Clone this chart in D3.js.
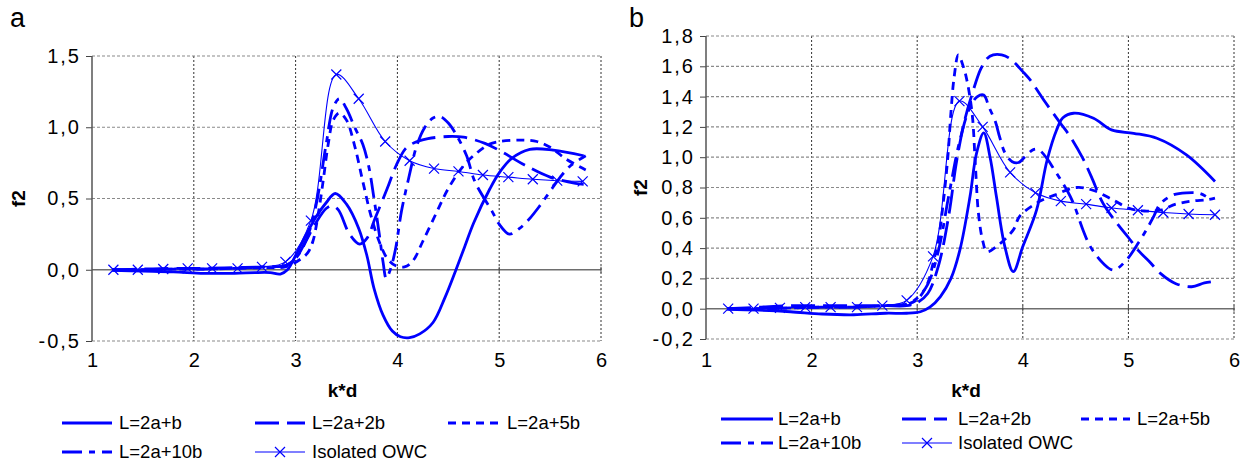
<!DOCTYPE html>
<html lang="en">
<head>
<meta charset="UTF-8">
<title>f2 vs k*d</title>
<script src="https://cdn.jsdelivr.net/npm/d3@7"></script>
<style>
  body { margin: 0; background: #fff; font-family: "Liberation Sans", Arial, sans-serif; }
</style>
</head>
<body>
<script>
// ---- data (k*d, f2) ----
const seriesNames = ["L=2a+b", "L=2a+2b", "L=2a+5b", "L=2a+10b", "Isolated OWC"];
const xTicks = [1, 2, 3, 4, 5, 6];
const yTicksA = [-0.5, 0, 0.5, 1.0, 1.5];
const yTicksB = [-0.2, 0, 0.2, 0.4, 0.6, 0.8, 1.0, 1.2, 1.4, 1.6, 1.8];

// isolated OWC, same in both panels (one point per marker)
const owc = [[1.21,0.0],[1.45,0.0],[1.70,0.005],[1.94,0.01],[2.18,0.01],[2.43,0.01],[2.67,0.02],[2.90,0.055],
  [3.15,0.345],[3.40,1.37],[3.62,1.20],[3.88,0.90],[4.12,0.765],[4.36,0.71],[4.60,0.69],[4.84,0.665],
  [5.09,0.65],[5.33,0.635],[5.57,0.625],[5.82,0.62]];

// panel a
const aL1 = [[1.2,-0.005],[1.5,-0.01],[1.8,-0.015],[2.1,-0.025],[2.4,-0.025],[2.6,-0.02],[2.75,-0.02],[2.85,-0.03],
  [2.92,0.0],[3.0,0.1],[3.1,0.24],[3.2,0.37],[3.3,0.47],[3.39,0.535],[3.5,0.46],[3.62,0.29],[3.7,0.1],[3.77,-0.13],
  [3.86,-0.32],[3.95,-0.43],[4.03,-0.47],[4.12,-0.476],[4.22,-0.45],[4.35,-0.37],[4.47,-0.19],[4.57,-0.01],
  [4.66,0.16],[4.75,0.33],[4.91,0.57],[5.0,0.68],[5.12,0.78],[5.3,0.845],[5.53,0.84],[5.83,0.80]];
const aL2 = [[1.2,0.0],[1.5,0.005],[1.8,0.01],[2.1,0.01],[2.4,0.015],[2.7,0.02],[2.9,0.03],[3.0,0.08],[3.1,0.2],
  [3.2,0.33],[3.3,0.43],[3.36,0.45],[3.42,0.42],[3.53,0.25],[3.63,0.18],[3.7,0.22],[3.78,0.36],[3.9,0.57],
  [3.99,0.735],[4.08,0.85],[4.16,0.89],[4.3,0.92],[4.5,0.935],[4.65,0.93],[4.86,0.887],[5.02,0.83],[5.25,0.735],
  [5.5,0.65],[5.75,0.607],[5.83,0.60]];
const aL5 = [[1.2,0.0],[1.5,0.0],[1.8,0.005],[2.1,0.005],[2.4,0.01],[2.7,0.015],[2.9,0.02],[3.04,0.07],[3.12,0.12],
  [3.17,0.2],[3.22,0.38],[3.27,0.62],[3.32,0.88],[3.37,1.05],[3.43,1.1],[3.5,1.05],[3.58,0.87],[3.66,0.62],
  [3.74,0.38],[3.82,0.2],[3.9,0.08],[3.98,0.03],[4.07,0.02],[4.15,0.06],[4.25,0.2],[4.39,0.41],[4.5,0.57],
  [4.65,0.73],[4.78,0.82],[4.9,0.88],[5.0,0.9],[5.2,0.91],[5.37,0.9],[5.5,0.86],[5.65,0.78],[5.85,0.7]];
const aL10 = [[1.2,0.0],[1.5,0.0],[1.8,0.005],[2.1,0.005],[2.4,0.01],[2.7,0.02],[2.9,0.03],[3.0,0.08],[3.1,0.2],
  [3.2,0.45],[3.3,0.88],[3.37,1.14],[3.43,1.2],[3.5,1.13],[3.58,1.0],[3.66,0.88],[3.72,0.72],[3.77,0.5],
  [3.82,0.26],[3.86,0.05],[3.89,-0.06],[3.93,0.0],[3.98,0.14],[4.04,0.41],[4.11,0.64],[4.19,0.87],[4.27,1.0],
  [4.35,1.065],[4.42,1.075],[4.5,1.03],[4.58,0.945],[4.68,0.8],[4.76,0.62],[4.93,0.41],[5.0,0.32],[5.1,0.25],
  [5.2,0.29],[5.3,0.36],[5.4,0.45],[5.5,0.55],[5.6,0.65],[5.7,0.73],[5.85,0.8]];

// panel b
const bL1 = [[1.2,-0.005],[1.5,-0.01],[1.8,-0.02],[2.1,-0.035],[2.4,-0.04],[2.7,-0.03],[2.9,-0.03],[3.03,-0.02],
  [3.12,0.01],[3.22,0.08],[3.32,0.2],[3.405,0.39],[3.5,0.74],[3.56,1.02],[3.63,1.16],[3.69,1.0],[3.75,0.74],
  [3.83,0.41],[3.91,0.245],[4.0,0.41],[4.13,0.65],[4.23,0.98],[4.32,1.18],[4.38,1.26],[4.48,1.29],[4.67,1.257],
  [4.84,1.18],[5.05,1.158],[5.27,1.125],[5.55,1.015],[5.82,0.84]];
const bL2 = [[1.2,0.0],[1.5,0.01],[1.8,0.02],[2.1,0.02],[2.4,0.02],[2.7,0.02],[2.9,0.02],[3.0,0.04],[3.1,0.1],
  [3.2,0.28],[3.3,0.62],[3.37,0.96],[3.45,1.245],[3.53,1.44],[3.6,1.58],[3.66,1.65],[3.72,1.675],[3.8,1.675],
  [3.88,1.65],[4.0,1.565],[4.07,1.51],[4.21,1.366],[4.35,1.23],[4.45,1.135],[4.57,0.99],[4.65,0.87],[4.76,0.695],
  [4.89,0.565],[5.0,0.47],[5.1,0.38],[5.2,0.31],[5.3,0.235],[5.45,0.165],[5.6,0.145],[5.72,0.17],[5.82,0.18]];
const bL5 = [[1.2,0.0],[1.5,0.0],[1.8,0.005],[2.1,0.01],[2.4,0.01],[2.7,0.02],[2.9,0.03],[3.0,0.06],[3.1,0.17],
  [3.15,0.3],[3.2,0.45],[3.25,0.72],[3.29,1.0],[3.32,1.3],[3.35,1.53],[3.39,1.675],[3.44,1.59],[3.47,1.51],
  [3.52,1.29],[3.55,0.96],[3.58,0.63],[3.62,0.45],[3.66,0.376],[3.75,0.41],[3.91,0.52],[3.97,0.61],[4.15,0.705],
  [4.3,0.75],[4.51,0.8],[4.67,0.78],[4.85,0.72],[5.0,0.665],[5.15,0.645],[5.3,0.65],[5.45,0.69],[5.6,0.71],
  [5.75,0.72],[5.82,0.73]];
const bL10 = [[1.2,0.0],[1.5,0.0],[1.8,0.005],[2.1,0.01],[2.4,0.01],[2.7,0.02],[2.9,0.03],[3.0,0.07],[3.1,0.16],
  [3.2,0.38],[3.3,0.75],[3.4,1.1],[3.5,1.33],[3.57,1.4],[3.63,1.41],[3.68,1.33],[3.74,1.235],[3.78,1.135],
  [3.83,1.03],[3.9,0.97],[3.96,0.965],[4.03,1.01],[4.1,1.05],[4.15,1.05],[4.23,0.99],[4.3,0.915],[4.36,0.85],
  [4.42,0.78],[4.48,0.695],[4.57,0.52],[4.64,0.41],[4.76,0.3],[4.86,0.255],[4.98,0.32],[5.1,0.44],[5.17,0.52],
  [5.24,0.61],[5.3,0.69],[5.42,0.75],[5.55,0.765],[5.68,0.76],[5.78,0.72]];

// ---- styles ----
const blue = "#0000ff";
const styles = [
  { w: 2.8, dash: null },
  { w: 2.8, dash: "24,8" },
  { w: 2.8, dash: "8,6" },
  { w: 2.8, dash: "20,7,6,7" },
  { w: 1.1, dash: null, marker: true }
];

const fmt = d3.formatLocale({ decimal: ",", thousands: ".", grouping: [3], currency: ["", ""], minus: "-" }).format(".1f");

const svg = d3.select("body").append("svg")
  .attr("width", 1245)
  .attr("height", 464);

function xMark(g, cx, cy, r) {
  g.append("path")
    .attr("d", `M${cx - r},${cy - r}L${cx + r},${cy + r}M${cx - r},${cy + r}L${cx + r},${cy - r}`)
    .attr("stroke", blue).attr("stroke-width", 1.2).attr("fill", "none");
}

function drawPanel(p) {
  const x = d3.scaleLinear().domain([1, 6]).range([p.left, p.right]);
  const y = d3.scaleLinear().domain(p.yDomain).range([p.bottom, p.top]);
  const g = svg.append("g");

  // vertical grid
  g.selectAll(".vg").data(xTicks.slice(1)).enter().append("line")
    .attr("x1", d => x(d)).attr("x2", d => x(d))
    .attr("y1", p.top).attr("y2", p.bottom)
    .attr("stroke", "#333").attr("stroke-width", 1).attr("stroke-dasharray", "2,2");
  // horizontal grid (incl. top and bottom border)
  g.selectAll(".hg").data(p.yTicks.filter(d => d !== 0)).enter().append("line")
    .attr("x1", p.left).attr("x2", p.right)
    .attr("y1", d => y(d)).attr("y2", d => y(d))
    .attr("stroke", "#8a8a8a").attr("stroke-width", 1.2).attr("stroke-dasharray", "3,2");

  // zero line with small cross ticks
  g.append("line").attr("x1", p.left).attr("x2", p.right)
    .attr("y1", y(0)).attr("y2", y(0))
    .attr("stroke", "#6e6e6e").attr("stroke-width", 1.5);
  g.selectAll(".zt").data(xTicks.slice(1)).enter().append("line")
    .attr("x1", d => x(d)).attr("x2", d => x(d))
    .attr("y1", y(0) - 3).attr("y2", y(0) + 3)
    .attr("stroke", "#444").attr("stroke-width", 1);

  // y axis
  const ya = g.append("g").attr("transform", `translate(${p.left},0)`)
    .call(d3.axisLeft(y).tickValues(p.yTicks).tickSize(6).tickPadding(5).tickFormat(fmt));
  ya.select(".domain").remove();
  ya.selectAll("line").attr("stroke", "#444");
  ya.selectAll("text").attr("font-size", 20).attr("fill", "#000")
    .attr("letter-spacing", 2)
    .attr("font-family", "Liberation Sans, Arial, sans-serif");
  g.append("line").attr("x1", p.left).attr("x2", p.left)
    .attr("y1", p.top).attr("y2", p.bottom)
    .attr("stroke", "#555").attr("stroke-width", 1.5);

  // x labels at the bottom
  const xa = g.append("g").attr("transform", `translate(0,${p.bottom})`)
    .call(d3.axisBottom(x).tickValues(xTicks).tickSize(0).tickPadding(p.xPad).tickFormat(d3.format("d")));
  xa.select(".domain").remove();
  xa.selectAll("text").attr("font-size", 20).attr("fill", "#000")
    .attr("font-family", "Liberation Sans, Arial, sans-serif");

  // axis titles and panel letter
  g.append("text").attr("x", (p.left + p.right) / 2 - 4).attr("y", 390).attr("dy", "0.35em")
    .attr("text-anchor", "middle").attr("font-weight", "bold").attr("font-size", 19).text("k*d");
  g.append("text").attr("transform", `translate(${p.titleX},${(p.top + p.bottom) / 2}) rotate(-90)`)
    .attr("dy", "0.35em").attr("text-anchor", "middle").attr("font-weight", "bold")
    .attr("font-size", 19).text("f2");
  g.append("text").attr("x", p.labelX).attr("y", 27).attr("font-size", 27).text(p.label);

  // curves
  const line = d3.line().x(d => x(d[0])).y(d => y(d[1])).curve(d3.curveCatmullRom.alpha(0.5));
  p.series.forEach((data, i) => {
    const s = styles[i];
    g.append("path").datum(data)
      .attr("d", line)
      .attr("fill", "none").attr("stroke", blue)
      .attr("stroke-width", s.w)
      .attr("stroke-dasharray", s.dash);
    if (s.marker) data.forEach(d => xMark(g, x(d[0]), y(d[1]), 5));
  });

  // legend
  p.legend.forEach((it, i) => {
    const s = styles[i];
    const ly = p.legendRows[it.row];
    g.append("line").attr("x1", it.x1).attr("x2", it.x2).attr("y1", ly).attr("y2", ly)
      .attr("stroke", blue).attr("stroke-width", s.w).attr("stroke-dasharray", s.dash);
    if (s.marker) xMark(g, (it.x1 + it.x2) / 2, ly, 5);
    g.append("text").attr("x", it.tx).attr("y", ly).attr("dy", "0.35em")
      .attr("font-size", 18.5).text(seriesNames[i]);
  });
}

drawPanel({
  left: 92, right: 601, top: 56, bottom: 341, yDomain: [-0.5, 1.5], yTicks: yTicksA, xPad: 12,
  titleX: 18, label: "a", labelX: 10,
  series: [aL1, aL2, aL5, aL10, owc],
  legendRows: [423, 452],
  legend: [
    { row: 0, x1: 62, x2: 112, tx: 119 },
    { row: 0, x1: 255, x2: 305, tx: 312 },
    { row: 0, x1: 448, x2: 500, tx: 507 },
    { row: 1, x1: 62, x2: 112, tx: 119 },
    { row: 1, x1: 255, x2: 305, tx: 312 }
  ]
});

drawPanel({
  left: 706, right: 1234, top: 36, bottom: 339, yDomain: [-0.2, 1.8], yTicks: yTicksB, xPad: 14,
  titleX: 640, label: "b", labelX: 629,
  series: [bL1, bL2, bL5, bL10, owc],
  legendRows: [419, 443],
  legend: [
    { row: 0, x1: 721, x2: 773, tx: 778 },
    { row: 0, x1: 902, x2: 947, tx: 958 },
    { row: 0, x1: 1081, x2: 1130, tx: 1137 },
    { row: 1, x1: 721, x2: 773, tx: 778 },
    { row: 1, x1: 902, x2: 952, tx: 958 }
  ]
});
</script>
</body>
</html>
